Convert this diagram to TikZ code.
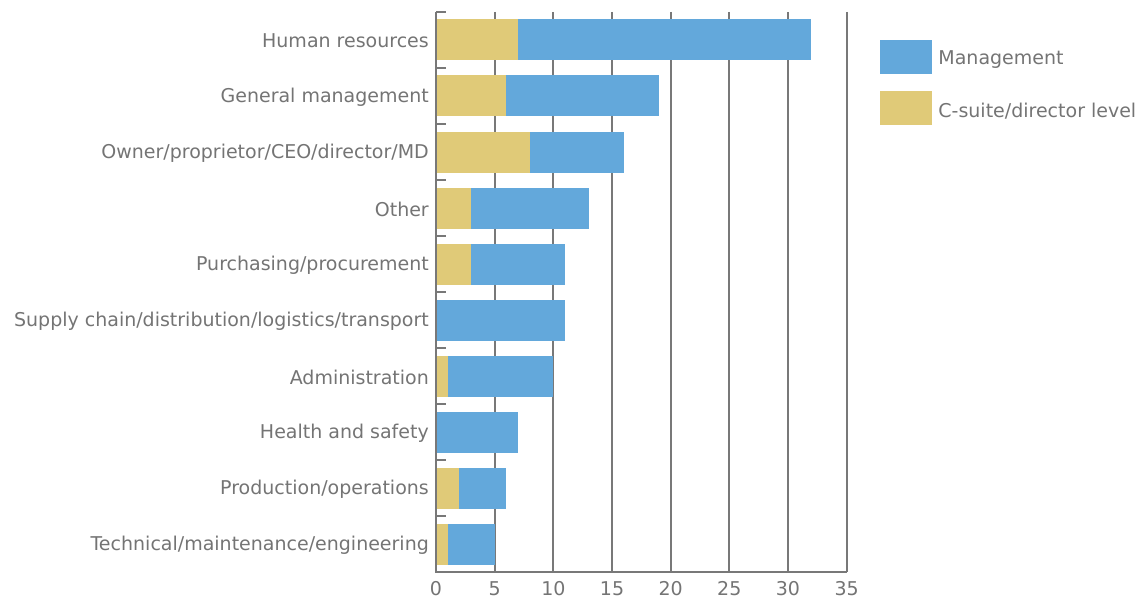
\documentclass[tikz,border=0pt]{standalone}
\usepackage{fontspec}
\setmainfont{DejaVu Sans}
\usetikzlibrary{positioning}
\definecolor{mgmtblue}{HTML}{63A8DB}
\definecolor{suiteyellow}{HTML}{E0CA78}
\definecolor{gridgray}{HTML}{787878}
\definecolor{textgray}{HTML}{747474}
\tikzstyle{catlabel} = [anchor=east, inner sep=0pt, text=textgray, font=\fontsize{19}{22}\selectfont]
\tikzstyle{ticklabel} = [inner sep=0pt, text=textgray, font=\fontsize{19}{22}\selectfont]
\tikzstyle{keylabel} = [anchor=west, inner sep=0pt, yshift=-3pt, text=textgray, font=\fontsize{19}{22}\selectfont]
\tikzstyle{gridline} = [gridgray, line width=2pt]
\tikzstyle{mgmt} = [fill=mgmtblue]
\tikzstyle{suite} = [fill=suiteyellow]
\tikzstyle{legendbox} = [rectangle, minimum width=52pt, minimum height=34pt, inner sep=0pt]

\begin{document}
\begin{tikzpicture}[x=1pt, y=-1pt]
               \useasboundingbox (0,0) rectangle (1139,599);
               \foreach \v in {5,10,...,35}
                  \draw [gridline] ({436+\v*11.733},12) -- ({436+\v*11.733},572);
               \foreach \k in {0,...,9}
                  \draw [gridline] (436,{12+56*\k}) -- (446,{12+56*\k});
               % bars: row / c-suite / total
               \foreach \r/\c/\t in {0/7/32, 1/6/19, 2/8/16, 3/3/13, 4/3/11, 5/0/11, 6/1/10, 7/0/7, 8/2/6, 9/1/5} {
                  \fill [mgmt] ({436+\c*11.733},{19.5+56*\r}) rectangle ({436+\t*11.733},{60.5+56*\r});
                  \fill [suite] (437,{19.5+56*\r}) rectangle ({436+\c*11.733},{60.5+56*\r});
               }
               \draw [gridline] (436,12) -- (436,572) -- (846.7,572);
               \foreach \v in {0,5,...,35}
                  \node [ticklabel] (tick\v) at ({436+\v*11.733},589) {\v};
               \node [catlabel] at (429,41) (hr) {Human resources};
               \node [catlabel] at (429,97) (genmgmt) {General management};
               \node [catlabel] at (429,153) (owner) {Owner/proprietor/CEO/director/MD};
               \node [catlabel] at (429,209) (other) {Other};
               \node [catlabel] at (429,265) (purch) {Purchasing/procurement};
               \node [catlabel] at (429,321) (supply) {Supply chain/distribution/logistics/transport};
               \node [catlabel] at (429,377) (admin) {Administration};
               \node [catlabel] at (429,433) (health) {Health and safety};
               \node [catlabel] at (429,489) (prod) {Production/operations};
               \node [catlabel] at (429,545) (tech) {Technical/maintenance/engineering};
               \node [legendbox, fill=mgmtblue] at (906,57) (mgmtkey) {};
               \node [legendbox, fill=suiteyellow] at (906,108) (suitekey) {};
               \node [keylabel, right=6pt of mgmtkey] (mgmtname) {Management};
               \node [keylabel, right=6pt of suitekey] (suitename) {C-suite/director level};
               \end{tikzpicture}
\end{document}
